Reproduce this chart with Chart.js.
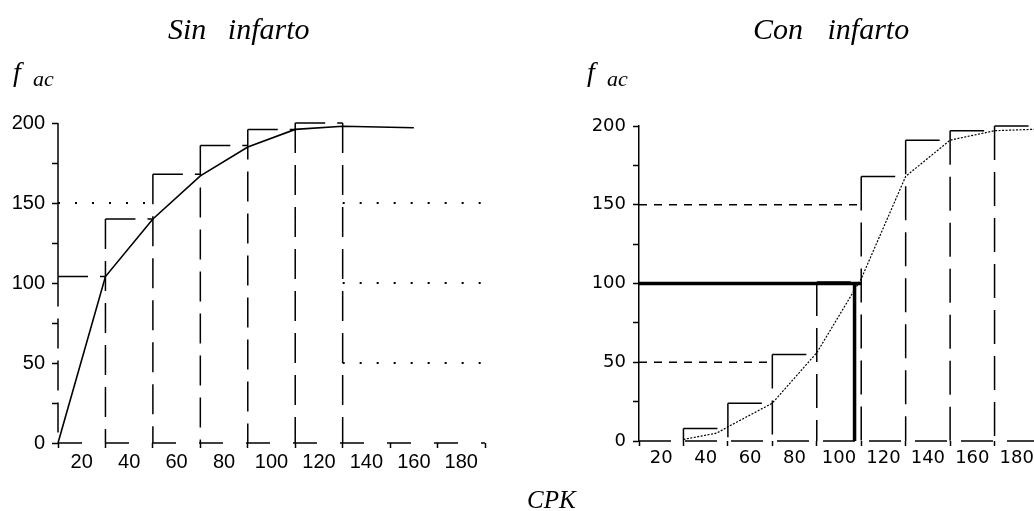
<!DOCTYPE html>
<html>
<head>
<meta charset="utf-8">
<script src="https://cdn.jsdelivr.net/npm/chart.js@4.4.1/dist/chart.umd.min.js"></script>
<style>
  html, body { margin: 0; padding: 0; background: #fff; overflow: hidden; }
  #page { position: relative; width: 1034px; height: 511px; overflow: hidden; }
  .lbl { position: absolute; font-family: 'Liberation Serif', 'Times New Roman', serif; font-style: italic; color: #000; line-height: 1; white-space: pre; }
  #sinChart { position: absolute; left: 0; top: 0; }
  #conChart { position: absolute; left: 570px; top: 0; }
</style>
</head>
<body>
<div id="page">
  <canvas id="sinChart" width="500" height="511"></canvas>
  <canvas id="conChart" width="480" height="511"></canvas>

  <div class="lbl" style="left:168px; top:14px; font-size:30px; word-spacing:14px;">Sin infarto</div>
  <div class="lbl" style="left:753px; top:14px; font-size:30px; word-spacing:17px;">Con infarto</div>

  <div class="lbl" style="left:13px; top:58px; font-size:28px;">f</div>
  <div class="lbl" style="left:33px; top:68px; font-size:22px;">ac</div>
  <div class="lbl" style="left:587px; top:58px; font-size:28px;">f</div>
  <div class="lbl" style="left:607px; top:68px; font-size:22px;">ac</div>

  <div class="lbl" style="left:527px; top:487px; font-size:25px;">CPK</div>
</div>

<script>
// --- datos: pacientes sin infarto ---
const sinEdges = [10, 30, 50, 70, 90, 110, 130];
const sinCum = [104, 140, 168, 186, 196, 200];
const sinOgiveX = [10, 30, 50, 70, 90, 110, 130, 160];
const sinOgiveY = [0, 104, 140, 167, 185, 196, 198, 197];
// lineas de referencia punteadas (nivel, desde, hasta)
const sinRefY = [150, 150, 100, 50];
const sinRefFrom = [10, 130, 130, 130];
const sinRefTo = [50, 190, 190, 190];

// --- datos: pacientes con infarto ---
const conEdges = [30, 50, 70, 90, 110, 130, 150, 170, 190];
const conCum = [8, 24, 55, 101, 168, 191, 197, 200];
const conOgiveX = [30, 45, 50, 70, 90, 110, 130, 150, 170, 190];
const conOgiveY = [1, 5, 9, 24, 56, 103, 168, 191, 197, 198];
const conRefY = [150, 50];
const conRefFrom = [10, 10];
const conRefTo = [110, 70];
// lectura de la mediana (linea gruesa)
const medianLevel = 100;
const medianX = 107;
const medianLineTo = 110;

// ejes comunes
const xMin = 10, xMax = 190;
const yMin = 0, yMax = 200;

// contorno del histograma acumulado: cada clase como una "Г"
function barOutline(edges, cum) {
    const pts = [];
    cum.forEach((h, i) => {
        const l = edges[i], r = edges[i + 1];
        pts.push({ x: l, y: h }, { x: l, y: 0 }, { x: l, y: null });
        pts.push({ x: l, y: h }, { x: r, y: h }, { x: r, y: null });
    });
    const last = cum.length - 1;
    pts.push({ x: edges[last + 1], y: cum[last] }, { x: edges[last + 1], y: 0 });
    return pts;
}

function refLines(ys, from, to) {
    const pts = [];
    ys.forEach((y, i) => {
        pts.push({ x: from[i], y: y }, { x: to[i], y: y }, { x: to[i], y: null });
    });
    return pts;
}

function xy(xs, ys) {
    return xs.map((x, i) => ({ x: x, y: ys[i] }));
}

// linea base discontinua (el borde del eje x no admite trazo discontinuo)
function baseLine() {
    return [{ x: xMin, y: yMin }, { x: xMax, y: yMin }];
}

function makeScales(font, showAxis) {
    return {
        x: {
            type: 'linear',
            min: xMin,
            max: xMax,
            afterFit: (s) => { s.height = 30; },
            ticks: {
                stepSize: 10,
                autoSkip: false,
                maxRotation: 0,
                padding: 2,
                color: '#000',
                font: font,
                callback: (v) => (v % 20 === 0 ? v : ''),
            },
            grid: {
                drawOnChartArea: false,
                tickLength: 5,
                tickWidth: 1.5,
                tickColor: (c) => (c.tick && c.tick.value % 20 === 10 ? '#000' : 'rgba(0,0,0,0)'),
            },
            border: { display: false },
        },
        y: {
            min: yMin,
            max: yMax,
            afterFit: (s) => { s.width = 50; },
            ticks: {
                stepSize: 25,
                padding: 7,
                color: '#000',
                font: font,
                callback: (v) => (v % 50 === 0 ? v : ''),
            },
            grid: { drawOnChartArea: false, tickLength: 6, tickWidth: 1.5, tickColor: '#000' },
            border: { display: showAxis, color: '#000', width: 1.5 },
        },
    };
}

// eje y dibujado solo por encima de la primera clase (grafica izquierda)
const partialAxis = {
    id: 'partialAxis',
    afterDatasetsDraw(chart, args, opts) {
        if (opts.from === undefined) return;
        const y = chart.scales.y, ctx = chart.ctx;
        ctx.save();
        ctx.strokeStyle = '#000';
        ctx.lineWidth = 1.5;
        ctx.beginPath();
        ctx.moveTo(chart.chartArea.left, y.getPixelForValue(opts.from));
        ctx.lineTo(chart.chartArea.left, y.getPixelForValue(y.max));
        ctx.stroke();
        ctx.restore();
    },
};

const lineBase = { type: 'line', pointRadius: 0, borderColor: '#000', tension: 0, clip: false, spanGaps: false };

// Grafica: sin infarto
new Chart(document.getElementById('sinChart').getContext('2d'), {
    type: 'line',
    data: {
        datasets: [
            Object.assign({}, lineBase, { data: refLines(sinRefY, sinRefFrom, sinRefTo), borderWidth: 2, borderDash: [2, 15] }),
            Object.assign({}, lineBase, { data: baseLine(), borderWidth: 1.5, borderDash: [24, 23] }),
            Object.assign({}, lineBase, { data: barOutline(sinEdges, sinCum), borderWidth: 1.5, borderDash: [30, 12] }),
            Object.assign({}, lineBase, { data: xy(sinOgiveX, sinOgiveY), borderWidth: 1.6 }),
        ],
    },
    options: {
        responsive: false,
        animation: false,
        devicePixelRatio: 1,
        layout: { padding: { left: 8, right: 15, top: 123, bottom: 38 } },
        plugins: { legend: { display: false }, tooltip: { enabled: false }, partialAxis: { from: sinCum[0] } },
        scales: makeScales({ family: "'Liberation Sans', Arial, sans-serif", size: 20 }, false),
    },
    plugins: [partialAxis],
});

// Grafica: con infarto
new Chart(document.getElementById('conChart').getContext('2d'), {
    type: 'line',
    data: {
        datasets: [
            Object.assign({}, lineBase, { data: refLines(conRefY, conRefFrom, conRefTo), borderWidth: 1.3, borderDash: [8, 7] }),
            Object.assign({}, lineBase, { data: baseLine(), borderWidth: 1.5, borderDash: [32, 14] }),
            Object.assign({}, lineBase, { data: barOutline(conEdges, conCum), borderWidth: 1.5, borderDash: [34, 12] }),
            Object.assign({}, lineBase, { data: xy(conOgiveX, conOgiveY), borderWidth: 1.2, borderDash: [2, 1.5] }),
            Object.assign({}, lineBase, {
                data: [
                    { x: xMin, y: medianLevel }, { x: medianLineTo, y: medianLevel }, { x: medianLineTo, y: null },
                    { x: medianX, y: medianLevel }, { x: medianX, y: 0 },
                ],
                borderWidth: 3.5,
            }),
        ],
    },
    options: {
        responsive: false,
        animation: false,
        devicePixelRatio: 1,
        layout: { padding: { left: 19, right: 11, top: 126, bottom: 40 } },
        plugins: { legend: { display: false }, tooltip: { enabled: false } },
        scales: makeScales({ family: "'DejaVu Sans', sans-serif", size: 18 }, true),
    },
    plugins: [partialAxis],
});
</script>
</body>
</html>
